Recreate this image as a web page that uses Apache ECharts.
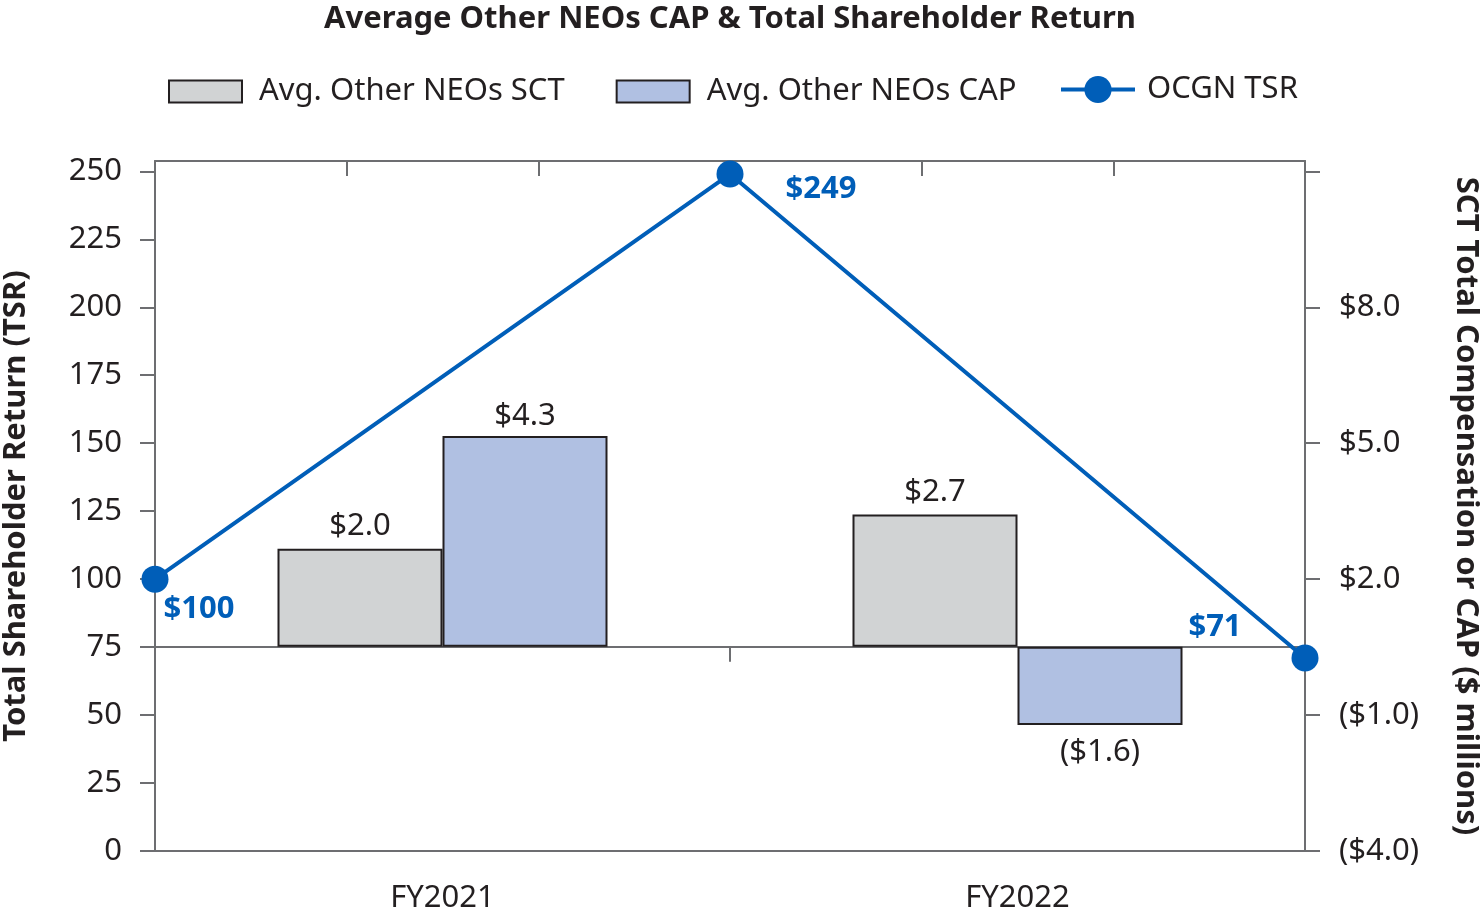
<!DOCTYPE html>
<html>
<head>
<meta charset="utf-8">
<script src="https://cdn.jsdelivr.net/npm/echarts@6/dist/echarts.min.js"></script>
<style>
html,body{margin:0;padding:0;background:#fff;}
#chart{width:1482px;height:919px;}
</style>
</head>
<body>
<div id="chart"></div>
<script>
// ---- data ----
const categories = ['FY2021', 'FY2022'];
const sctValues = [2.0, 2.7];
const capValues = [4.3, -1.6];
const tsrPoints = ['FY2020', 'FY2021', 'FY2022'];
const tsrValues = [100, 249, 71];
const leftTicks = [0, 25, 50, 75, 100, 125, 150, 175, 200, 225, 250];
const rightTicks = [-4, -1, 2, 5, 8, 11];
const rightLabels = [-4, -1, 2, 5, 8];
const topTickSlots = ['', '', '', '', '', ''];

// ---- styles ----
const FONT = 'Noto Sans';
const FS = 31;
const AXIS_GRAY = '#6d6e71';
const TEXT = '#231f20';
const BLUE = '#005eb8';
const tsrLabelOffsets = [[44, 30], [91, 15], [-90, -31]];

function money(v) {
  const s = '$' + Math.abs(v).toFixed(1);
  return v < 0 ? '(' + s + ')' : s;
}

const chart = echarts.init(document.getElementById('chart'));
const axisLine = { show: true, lineStyle: { color: AXIS_GRAY, width: 2 } };

chart.setOption({
  animation: false,
  backgroundColor: '#fff',
  textStyle: { fontFamily: FONT },
  title: {
    text: 'Average Other NEOs CAP & Total Shareholder Return',
    left: 730, top: 4, padding: 0, textAlign: 'center',
    textStyle: { fontFamily: FONT, fontSize: FS, fontWeight: 'bold', color: TEXT }
  },
  legend: [
    {
      left: 168, top: 76, padding: 0,
      itemWidth: 73, itemHeight: 22, itemGap: 51,
      data: [
        { name: 'Avg. Other NEOs SCT', icon: 'rect' },
        { name: 'Avg. Other NEOs CAP', icon: 'rect' }
      ],
      textStyle: { fontFamily: FONT, fontSize: FS, color: TEXT, padding: [0, 0, 0, 12] }
    },
    {
      left: 1059, top: 74, padding: 0,
      itemWidth: 74, itemHeight: 34,
      data: ['OCGN TSR'],
      lineStyle: { width: 4 },
      textStyle: { fontFamily: FONT, fontSize: FS, color: TEXT, padding: [0, 0, 0, 7] }
    }
  ],
  grid: { left: 155, right: 177, top: 161, bottom: 68, containLabel: false, outerBoundsMode: 'none' },
  xAxis: [
    {
      type: 'category', data: categories, position: 'bottom',
      axisLine: Object.assign({ onZero: false }, axisLine),
      axisTick: { show: false },
      axisLabel: { fontFamily: FONT, fontSize: FS, color: TEXT, margin: 32 },
      splitLine: { show: false }
    },
    {
      type: 'category', data: categories, position: 'bottom',
      axisLine: { show: true, onZero: true, onZeroAxisIndex: 2, lineStyle: { color: AXIS_GRAY, width: 2 } },
      axisTick: { show: true, inside: false, length: 15, lineStyle: { color: AXIS_GRAY, width: 2 } },
      axisLabel: { show: false },
      splitLine: { show: false }
    },
    {
      type: 'category', data: topTickSlots, position: 'top',
      axisLine: Object.assign({ onZero: false }, axisLine),
      axisTick: { show: true, inside: true, length: 15, lineStyle: { color: AXIS_GRAY, width: 2 } },
      axisLabel: { show: false },
      splitLine: { show: false }
    },
    {
      type: 'category', data: tsrPoints, boundaryGap: false, show: false,
      axisLine: { onZero: false }
    }
  ],
  yAxis: [
    {
      type: 'value', position: 'left', min: 0, max: 253.8, interval: 25,
      name: 'Total Shareholder Return (TSR)', nameLocation: 'middle', nameGap: 123,
      nameTextStyle: { fontFamily: FONT, fontSize: FS, fontWeight: 'bold', color: TEXT },
      axisLine: axisLine,
      axisTick: { show: true, length: 15, customValues: leftTicks, lineStyle: { color: AXIS_GRAY, width: 2 } },
      axisLabel: { fontFamily: FONT, fontSize: FS, color: TEXT, margin: 33, customValues: leftTicks },
      splitLine: { show: false }
    },
    {
      type: 'value', position: 'right', min: -4, max: 11.228, interval: 3,
      name: 'SCT Total Compensation or CAP ($ millions)', nameLocation: 'middle', nameGap: 145, nameRotate: -90,
      nameTextStyle: { fontFamily: FONT, fontSize: FS, fontWeight: 'bold', color: TEXT },
      axisLine: axisLine,
      axisTick: { show: true, length: 15, customValues: rightTicks, lineStyle: { color: AXIS_GRAY, width: 2 } },
      axisLabel: { fontFamily: FONT, fontSize: FS, color: TEXT, margin: 34, customValues: rightLabels, formatter: money },
      splitLine: { show: false }
    },
    {
      type: 'value', min: -4.169, max: 9.912, show: false,
      splitLine: { show: false }
    }
  ],
  series: [
    {
      name: 'Avg. Other NEOs SCT', type: 'bar', xAxisIndex: 0, yAxisIndex: 2,
      data: sctValues, barWidth: 165, barGap: '0%',
      itemStyle: { color: '#d1d3d4', borderColor: TEXT, borderWidth: 2 },
      label: { show: true, position: 'outside', distance: 7, formatter: p => money(p.value), fontFamily: FONT, fontSize: FS, color: TEXT }
    },
    {
      name: 'Avg. Other NEOs CAP', type: 'bar', xAxisIndex: 0, yAxisIndex: 2,
      data: capValues.map(v => ({ value: v, label: { distance: v < 0 ? 12 : 4 } })),
      barWidth: 165, barGap: '0%',
      itemStyle: { color: '#b0c0e2', borderColor: TEXT, borderWidth: 2 },
      label: { show: true, position: 'outside', formatter: p => money(p.value), fontFamily: FONT, fontSize: FS, color: TEXT }
    },
    {
      name: 'OCGN TSR', type: 'line', xAxisIndex: 3, yAxisIndex: 0,
      data: tsrValues.map((v, i) => ({ value: v, label: { offset: tsrLabelOffsets[i] } })),
      symbol: 'circle', symbolSize: 27, z: 5,
      lineStyle: { color: BLUE, width: 4 },
      itemStyle: { color: BLUE },
      label: { show: true, position: 'inside', formatter: p => '$' + p.value, fontFamily: FONT, fontSize: FS, fontWeight: 'bold', color: BLUE }
    }
  ]
});
</script>
</body>
</html>
